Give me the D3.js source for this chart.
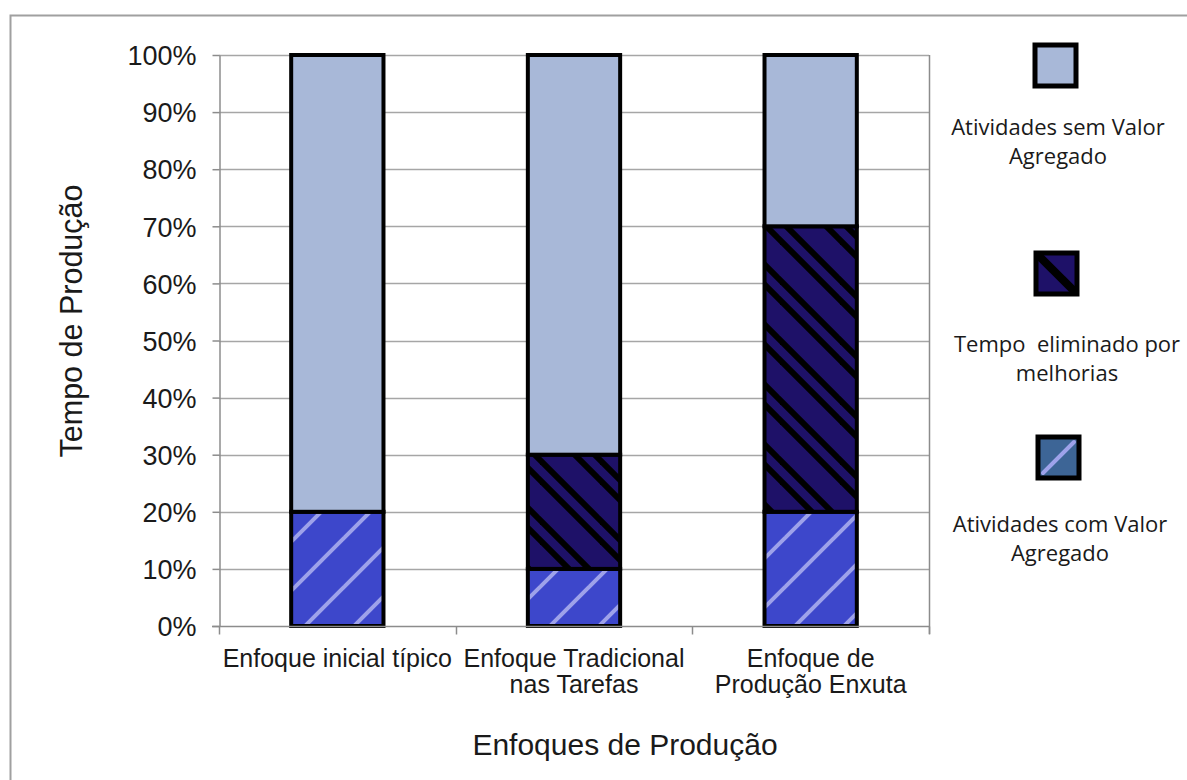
<!DOCTYPE html>
<html>
<head>
<meta charset="utf-8">
<script src="https://cdn.jsdelivr.net/npm/d3@7"></script>
<style>
  html, body { margin: 0; padding: 0; background: #fff; }
  svg { display: block; }
</style>
</head>
<body>
<svg id="chart" width="1187" height="780"></svg>
<script>
// Categories (two-line labels) and stacked shares per category
const categories = ["Enfoque inicial típico", "Enfoque Tradicional nas Tarefas", "Enfoque de Produção Enxuta"];
const categoryLines = [["Enfoque inicial típico"], ["Enfoque Tradicional", "nas Tarefas"], ["Enfoque de", "Produção Enxuta"]];
const comValor = [20, 10, 20];      // Atividades com Valor Agregado
const eliminado = [0, 20, 50];      // Tempo eliminado por melhorias
const semValor = [80, 70, 30];      // Atividades sem Valor Agregado
const yTicks = [0, 10, 20, 30, 40, 50, 60, 70, 80, 90, 100];
const seriesKeys = ["comValor", "eliminado", "semValor"];
const legendLabels = [
  ["Atividades sem Valor", "Agregado"],
  ["Tempo  eliminado por", "melhorias"],
  ["Atividades com Valor", "Agregado"]
];

const SANS = "'Liberation Sans', Arial, sans-serif";
const svg = d3.select("#chart");
const W = 1187, H = 780;
const plot = { left: 219, right: 929, top: 55, bottom: 626 };

// Outer chart frame
svg.append("rect")
  .attr("x", 10.5).attr("y", 15.5)
  .attr("width", W + 20).attr("height", H + 20)
  .attr("fill", "#fff").attr("stroke", "#a0a0a0").attr("stroke-width", 2);

const defs = svg.append("defs");
// Light diagonal stripes on bright blue
const pBlue = defs.append("pattern").attr("id", "pBlue")
  .attr("patternUnits", "userSpaceOnUse").attr("width", 49).attr("height", 49);
pBlue.append("rect").attr("width", 49).attr("height", 49).attr("fill", "#3d47cb");
[[-10, 59, 59, -10], [-59, 59, 59, -59], [-10, 108, 108, -10]].forEach(l =>
  pBlue.append("line").attr("x1", l[0]).attr("y1", l[1]).attr("x2", l[2]).attr("y2", l[3])
    .attr("stroke", "#9ea2ea").attr("stroke-width", 4));
// Black back-diagonal stripes on navy
const pNavy = defs.append("pattern").attr("id", "pNavy")
  .attr("patternUnits", "userSpaceOnUse").attr("width", 60).attr("height", 60);
pNavy.append("rect").attr("width", 60).attr("height", 60).attr("fill", "#1e1168");
[0, 20, 60, 80, -60, -40].forEach(o =>
  pNavy.append("line").attr("x1", o - 10).attr("y1", -10).attr("x2", o + 70).attr("y2", 70)
    .attr("stroke", "#000").attr("stroke-width", 6));

const fills = { comValor: "url(#pBlue)", eliminado: "url(#pNavy)", semValor: "#a8b8d8" };

const x = d3.scaleBand().domain(categories).range([plot.left, plot.right]).paddingInner(0.61).paddingOuter(0.305);
const y = d3.scaleLinear().domain([0, 100]).range([plot.bottom, plot.top]);

// Horizontal gridlines
svg.append("g").selectAll("line").data(yTicks.slice(1)).join("line")
  .attr("x1", plot.left).attr("x2", plot.right)
  .attr("y1", d => Math.round(y(d)) + 0.5).attr("y2", d => Math.round(y(d)) + 0.5)
  .attr("stroke", "#a6a6a6").attr("stroke-width", 1.5);
// Right edge of plot area
svg.append("line").attr("x1", plot.right + 0.5).attr("x2", plot.right + 0.5)
  .attr("y1", plot.top).attr("y2", plot.bottom + 8)
  .attr("stroke", "#8c8c8c").attr("stroke-width", 1.5);

// Stacked bars
const rows = categories.map((c, i) => ({ cat: c, comValor: comValor[i], eliminado: eliminado[i], semValor: semValor[i] }));
const stack = d3.stack().keys(seriesKeys)(rows);
stack.forEach(layer => {
  svg.append("g").selectAll("rect").data(layer.filter(d => d[1] - d[0] > 0)).join("rect")
    .attr("x", d => x(d.data.cat))
    .attr("width", x.bandwidth())
    .attr("y", d => y(d[1]))
    .attr("height", d => y(d[0]) - y(d[1]))
    .attr("fill", fills[layer.key])
    .attr("stroke", "#000").attr("stroke-width", 4);
});

// Y axis
const yAxis = svg.append("g").attr("transform", `translate(${plot.left + 0.5},0)`)
  .call(d3.axisLeft(y).tickValues(yTicks).tickFormat(d => d + "%").tickSize(7).tickSizeOuter(0));
yAxis.select(".domain").attr("stroke", "#8c8c8c").attr("stroke-width", 1.5);
yAxis.selectAll(".tick line").attr("stroke", "#8c8c8c").attr("stroke-width", 1.5);
yAxis.selectAll(".tick text").attr("x", -23).attr("dy", "0.36em")
  .attr("font-family", SANS).attr("font-size", 27).attr("fill", "#1a1a1a");

// X axis
const xAxisY = plot.bottom + 0.5;
svg.append("line").attr("x1", plot.left - 7).attr("x2", plot.right).attr("y1", xAxisY).attr("y2", xAxisY)
  .attr("stroke", "#8c8c8c").attr("stroke-width", 1.5);
const boundaries = [plot.left].concat(categories.map(c => x(c) - x.step() * x.paddingInner() / 2 + x.step()));
svg.append("g").selectAll("line").data(boundaries).join("line")
  .attr("x1", d => Math.round(d) + 0.5).attr("x2", d => Math.round(d) + 0.5)
  .attr("y1", xAxisY).attr("y2", xAxisY + 8)
  .attr("stroke", "#8c8c8c").attr("stroke-width", 1.5);

// Category labels
categories.forEach((c, i) => {
  const t = svg.append("text").attr("x", x(c) + x.bandwidth() / 2).attr("y", 667)
    .attr("text-anchor", "middle").attr("font-family", SANS)
    .attr("font-size", 25).attr("fill", "#1a1a1a");
  categoryLines[i].forEach((ln, j) => t.append("tspan").attr("x", x(c) + x.bandwidth() / 2).attr("dy", j ? 26 : 0).text(ln));
});

// Axis titles
svg.append("text").attr("x", 625).attr("y", 755).attr("text-anchor", "middle")
  .attr("font-family", SANS).attr("font-size", 30).attr("fill", "#1a1a1a")
  .text("Enfoques de Produção");
svg.append("text").attr("transform", "translate(82,321) rotate(-90)").attr("text-anchor", "middle")
  .attr("font-family", SANS).attr("font-size", 30.5).attr("fill", "#1a1a1a")
  .text("Tempo de Produção");

// Legend
const legend = [
  { sx: 1035, sy: 45, fill: "#a8b8d8", text: 135, tx: 1058 },
  { sx: 1036, sy: 253, fill: "#1e1168", text: 352, tx: 1067 },
  { sx: 1038, sy: 437, fill: "#3d6596", text: 532, tx: 1060 }
];
legend.forEach((L, i) => {
  const g = svg.append("g");
  const s = 41;
  g.append("rect").attr("x", L.sx).attr("y", L.sy).attr("width", s).attr("height", s)
    .attr("fill", L.fill).attr("stroke", "#000").attr("stroke-width", 5);
  if (i === 1) {
    g.append("clipPath").attr("id", "lc1").append("rect").attr("x", L.sx).attr("y", L.sy).attr("width", s).attr("height", s);
    g.append("line").attr("x1", L.sx + 2).attr("y1", L.sy + 2).attr("x2", L.sx + s).attr("y2", L.sy + s)
      .attr("clip-path", "url(#lc1)").attr("stroke", "#000").attr("stroke-width", 8);
  }
  if (i === 2) {
    g.append("line").attr("x1", L.sx + 5).attr("y1", L.sy + s - 5).attr("x2", L.sx + s - 5).attr("y2", L.sy + 5)
      .attr("stroke", "#9ea2ea").attr("stroke-width", 4).attr("stroke-linecap", "round");
  }
  const t = g.append("text").attr("text-anchor", "middle").attr("font-family", "'Open Sans', 'DejaVu Sans', sans-serif")
    .attr("font-size", 22).attr("fill", "#1a1a1a").style("white-space", "pre");
  legendLabels[i].forEach((ln, j) => t.append("tspan").attr("x", L.tx).attr("y", L.text + j * 29).text(ln));
});
</script>
</body>
</html>
